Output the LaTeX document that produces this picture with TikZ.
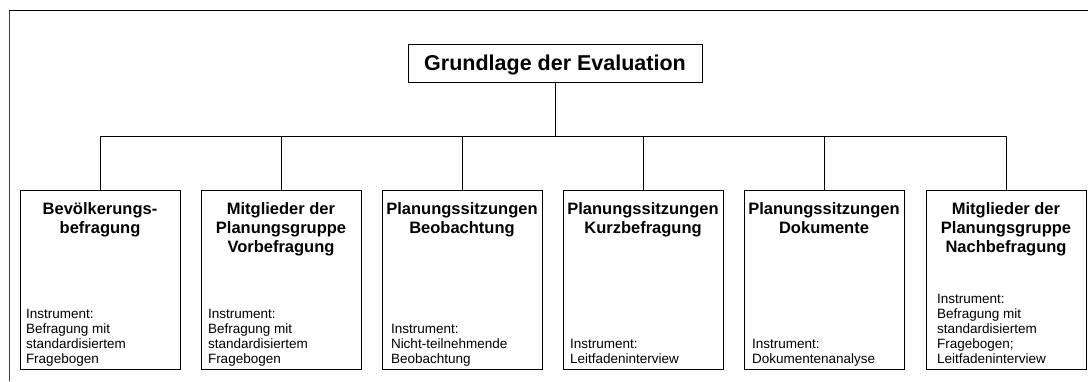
\documentclass[tikz,border=0pt]{standalone}
\usepackage{fontspec}
\setmainfont{Liberation Sans}
\begin{document}
\begin{tikzpicture}[x=1pt,y=-1pt,
  line width=0.9pt,
  catbox/.style={draw=black, minimum width=160pt, minimum height=179pt, inner sep=0pt},
  cattitle/.style={anchor=north, align=center, inner sep=0pt,
    font=\fontsize{16.5}{19}\selectfont\bfseries},
  insttext/.style={anchor=south west, align=left, inner sep=0pt,
    font=\fontsize{13.5}{15}\selectfont},
  conn/.style={draw=black, line width=0.9pt}]
\useasboundingbox (0,0) rectangle (1088,381);
% outer frame
\coordinate (fbl) at (9,381);
\coordinate (ftl) at (9,10);
\coordinate (ftr) at (1088,10);
\draw[line width=1pt, black!75] (fbl) -- (ftl);
\draw[line width=1pt] (ftl) -- (ftr);
% top node
\node[draw=black, minimum width=294pt, minimum height=38pt, inner sep=0pt,
  text depth=0pt, font=\fontsize{21.5}{24}\selectfont\bfseries]
  (top) at (555,63) {Grundlage der Evaluation};
% category boxes
\node[catbox] (b1) at (100,279.5) {};
\node[catbox] (b2) at (281,279.5) {};
\node[catbox] (b3) at (462,279.5) {};
\node[catbox] (b4) at (643,279.5) {};
\node[catbox] (b5) at (824,279.5) {};
\node[catbox] (b6) at (1006,279.5) {};
% connectors
\coordinate (bar) at (0,136);
\draw[conn] (top.south) -- (top.south |- bar);
\draw[conn] (b1.north |- bar) -- (b6.north |- bar);
\foreach \b in {b1,b2,b3,b4,b5,b6}{
  \draw[conn] (\b.north) -- (\b.north |- bar);
}
% titles
\node[cattitle] (t1) at ([yshift=-13pt]b1.north) {Bevölkerungs-\\befragung};
\node[cattitle] (t2) at ([yshift=-13pt]b2.north) {Mitglieder der\\Planungsgruppe\\Vorbefragung};
\node[cattitle] (t3) at ([yshift=-13pt]b3.north) {Planungssitzungen\\Beobachtung};
\node[cattitle] (t4) at ([yshift=-13pt]b4.north) {Planungssitzungen\\Kurzbefragung};
\node[cattitle] (t5) at ([yshift=-13pt]b5.north) {Planungssitzungen\\Dokumente};
\node[cattitle] (t6) at ([yshift=-13pt]b6.north) {Mitglieder der\\Planungsgruppe\\Nachbefragung};
% instrument texts
\node[insttext] (i1) at ([xshift=6pt,yshift=1.5pt]b1.south west) {Instrument:\\Befragung mit\\standardisiertem\\Fragebogen\strut};
\node[insttext] (i2) at ([xshift=7pt,yshift=1.5pt]b2.south west) {Instrument:\\Befragung mit\\standardisiertem\\Fragebogen\strut};
\node[insttext] (i3) at ([xshift=9pt,yshift=1.5pt]b3.south west) {Instrument:\\Nicht-teilnehmende\\Beobachtung\strut};
\node[insttext] (i4) at ([xshift=7pt,yshift=1.5pt]b4.south west) {Instrument:\\Leitfadeninterview\strut};
\node[insttext] (i5) at ([xshift=8pt,yshift=1.5pt]b5.south west) {Instrument:\\Dokumentenanalyse\strut};
\node[insttext] (i6) at ([xshift=11pt,yshift=1.5pt]b6.south west) {Instrument:\\Befragung mit\\standardisiertem\\Fragebogen;\\Leitfadeninterview\strut};
\end{tikzpicture}
\end{document}
